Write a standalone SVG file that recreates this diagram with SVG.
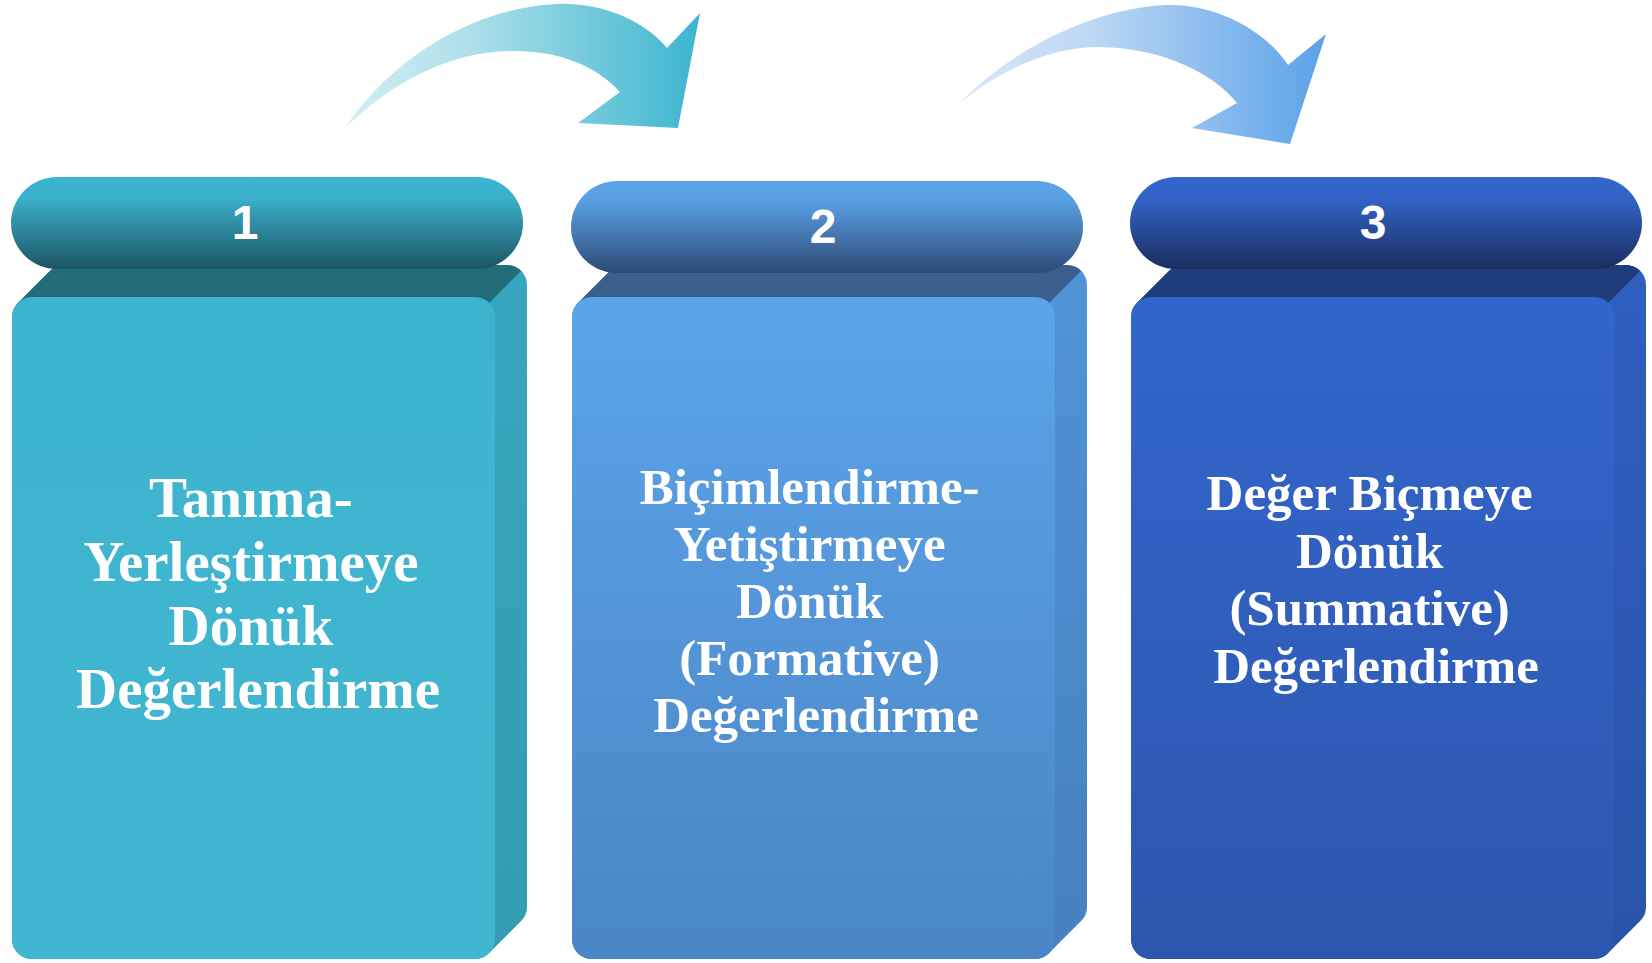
<svg xmlns="http://www.w3.org/2000/svg" xmlns:xlink="http://www.w3.org/1999/xlink" width="1652" height="963" viewBox="0 0 1652 963">
  <style>
    .lbl { font-family: "Liberation Serif", "Times New Roman", serif; font-weight: bold; fill: #ffffff; text-anchor: middle; }
    .l1 { font-size: 57px; }
    .l2 { font-size: 51px; }
    .num { font-family: "Liberation Sans", Arial, sans-serif; font-weight: bold; font-size: 48px; fill: #ffffff; text-anchor: middle; }
  </style>
  <defs>
    <path id="sil" d="M5.9,302.9 L37.9,270.9 A20,20 0 0 1 52,265 H495 A20,20 0 0 1 515,285 V907 A20,20 0 0 1 509.1,921.1 L477.1,953.1 A20,20 0 0 1 463,959 H20 A20,20 0 0 1 0,939 V317 A20,20 0 0 1 5.9,302.9 Z"/>
    <path id="top" d="M5.9,302.9 L37.9,270.9 A20,20 0 0 1 52,265 H495 A20,20 0 0 1 509.1,270.9 L477.1,302.9 L20,317 Z"/>
    <rect id="front" x="0" y="297" width="483" height="662" rx="20" ry="20"/>

    <linearGradient id="pill1" x1="0" y1="0" x2="0" y2="1">
      <stop offset="0" stop-color="#3bb4cf"/>
      <stop offset="0.22" stop-color="#3bb1cb"/>
      <stop offset="1" stop-color="#1c5463"/>
    </linearGradient>
    <linearGradient id="pill2" x1="0" y1="0" x2="0" y2="1">
      <stop offset="0" stop-color="#5ba3e9"/>
      <stop offset="0.22" stop-color="#599fe3"/>
      <stop offset="1" stop-color="#2d4a75"/>
    </linearGradient>
    <linearGradient id="pill3" x1="0" y1="0" x2="0" y2="1">
      <stop offset="0" stop-color="#3366cc"/>
      <stop offset="0.22" stop-color="#3264c8"/>
      <stop offset="1" stop-color="#1a2d5e"/>
    </linearGradient>

    <linearGradient id="front1" x1="0" y1="0" x2="0" y2="1">
      <stop offset="0" stop-color="#3db4ce"/>
      <stop offset="1" stop-color="#41b6d0"/>
    </linearGradient>
    <linearGradient id="front2" x1="0" y1="0" x2="0" y2="1">
      <stop offset="0" stop-color="#5ca4ea"/>
      <stop offset="1" stop-color="#4a86c5"/>
    </linearGradient>
    <linearGradient id="front3" x1="0" y1="0" x2="0" y2="1">
      <stop offset="0" stop-color="#3366cc"/>
      <stop offset="1" stop-color="#2c57ae"/>
    </linearGradient>

    <linearGradient id="side1" x1="0" y1="0" x2="0" y2="1">
      <stop offset="0" stop-color="#37a6be"/>
      <stop offset="1" stop-color="#339db3"/>
    </linearGradient>
    <linearGradient id="side2" x1="0" y1="0" x2="0" y2="1">
      <stop offset="0" stop-color="#5194d8"/>
      <stop offset="1" stop-color="#4680c0"/>
    </linearGradient>
    <linearGradient id="side3" x1="0" y1="0" x2="0" y2="1">
      <stop offset="0" stop-color="#2f5fc0"/>
      <stop offset="1" stop-color="#2a54aa"/>
    </linearGradient>

    <linearGradient id="arr1" gradientUnits="userSpaceOnUse" x1="345" y1="0" x2="700" y2="0">
      <stop offset="0" stop-color="#d3edf4"/>
      <stop offset="0.35" stop-color="#afdfea"/>
      <stop offset="1" stop-color="#3cb5cf"/>
    </linearGradient>
    <linearGradient id="arr2" gradientUnits="userSpaceOnUse" x1="960" y1="0" x2="1326" y2="0">
      <stop offset="0" stop-color="#d8e7f9"/>
      <stop offset="0.35" stop-color="#bed8f5"/>
      <stop offset="1" stop-color="#5aa2e8"/>
    </linearGradient>
  </defs>

  <rect x="0" y="0" width="1652" height="963" fill="#ffffff"/>

  <g id="connectors">
    <path id="arrow1" fill="url(#arr1)" d="M345,128 C390,62 465,10 555,4 C605,2 645,22 667,48 L700,13 L678,128 L578,123 L620,92 C595,64 555,50 510,51 C450,52 395,80 345,128 Z"/>
    <path id="arrow2" fill="url(#arr2)" d="M960,103 C1000,60 1080,10 1165,5 C1215,3 1265,30 1288,65 L1326,34 L1290,144 L1192,128 L1237,103 C1215,75 1165,48 1100,47 C1050,47 1000,70 960,103 Z"/>
  </g>

  <g id="node1" transform="translate(12,0)">
    <use xlink:href="#sil" fill="url(#side1)"/>
    <use xlink:href="#top" fill="#226b78"/>
    <use xlink:href="#front" fill="url(#front1)"/>
    <rect x="-1" y="177" width="512" height="92" rx="46" ry="46" fill="url(#pill1)"/>
    <text class="num" x="233" y="239">1</text>
    <text class="lbl l1">
      <tspan x="246" y="517">Tanıma-</tspan>
      <tspan x="246" y="581">Yerleştirmeye</tspan>
      <tspan x="246" y="645">Dönük</tspan>
      <tspan x="246" y="708">Değerlendirme</tspan>
    </text>
  </g>

  <g id="node2" transform="translate(572,0)">
    <use xlink:href="#sil" fill="url(#side2)"/>
    <use xlink:href="#top" fill="#3a5f8c"/>
    <use xlink:href="#front" fill="url(#front2)"/>
    <rect x="-1" y="181" width="512" height="92" rx="46" ry="46" fill="url(#pill2)"/>
    <text class="num" x="251" y="243">2</text>
    <text class="lbl l2">
      <tspan x="244" y="504">Biçimlendirme-</tspan>
      <tspan x="244" y="561">Yetiştirmeye</tspan>
      <tspan x="244" y="618">Dönük</tspan>
      <tspan x="244" y="675">(Formative)</tspan>
      <tspan x="244" y="732">Değerlendirme</tspan>
    </text>
  </g>

  <g id="node3" transform="translate(1131,0)">
    <use xlink:href="#sil" fill="url(#side3)"/>
    <use xlink:href="#top" fill="#1f3d7b"/>
    <use xlink:href="#front" fill="url(#front3)"/>
    <rect x="-1" y="177" width="512" height="92" rx="46" ry="46" fill="url(#pill3)"/>
    <text class="num" x="242" y="239">3</text>
    <text class="lbl l2">
      <tspan x="245" y="510">Değer Biçmeye</tspan>
      <tspan x="245" y="568">Dönük</tspan>
      <tspan x="245" y="625">(Summative)</tspan>
      <tspan x="245" y="683">Değerlendirme</tspan>
    </text>
  </g>
</svg>
